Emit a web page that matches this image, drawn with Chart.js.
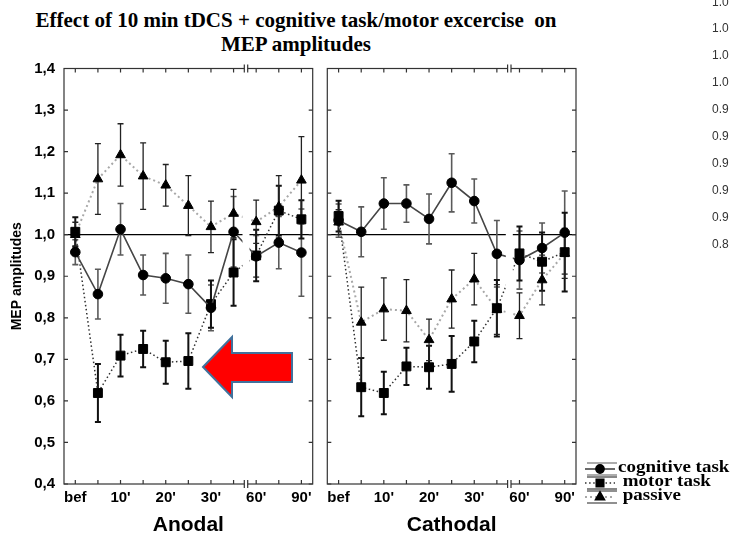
<!DOCTYPE html>
<html>
<head>
<meta charset="utf-8">
<script src="https://cdn.jsdelivr.net/npm/chart.js@4.4.1/dist/chart.umd.min.js"></script>
<style>
  html, body { margin: 0; padding: 0; background: #fff; }
  #page { position: relative; width: 732px; height: 545px; overflow: hidden; }
  .title { position: absolute; left: 0; top: 8px; width: 592px; text-align: center; white-space: pre;
           font: bold 21px "Liberation Serif", "Times New Roman", serif; line-height: 24px; color: #000; }
  #cvLeft { position: absolute; left: 0; top: 0; }
  #cvRight { position: absolute; left: 320px; top: 0; }
  #arrow { position: absolute; left: 0; top: 0; pointer-events: none; }
  .side { position: absolute; left: 712px; font: 12px "Liberation Sans", Arial, sans-serif; line-height: 14px; color: #333; }
</style>
</head>
<body>
<div id="page">
  <div class="title">Effect of 10 min tDCS + cognitive task/motor excercise  on
MEP amplitudes</div>
  <canvas id="cvLeft" width="320" height="545"></canvas>
  <canvas id="cvRight" width="412" height="545"></canvas>
  <svg id="arrow" width="732" height="545">
    <polygon points="203,367 232,337 232,353 292,353 292,382 232,382 232,397"
             fill="#ff0000" stroke="#41719c" stroke-width="2" stroke-linejoin="miter"/>
  </svg>
</div>
<script>
// time points (bef + 10 measurements), tick labels only on every other one
const timeLabels = ['bef', '', "10'", '', "20'", '', "30'", '', "60'", '', "90'"];
const yTicks = [0.4, 0.5, 0.6, 0.7, 0.8, 0.9, 1.0, 1.1, 1.2, 1.3, 1.4];
const breakAt = 7.55;   // axis break between 40' and 60'
const refLevel = 1.0;

const seriesNames = ['cognitive task', ' motor task', ' passive'];

// Anodal
const anodalCognitive    = [0.958, 0.857, 1.013, 0.903, 0.895, 0.881, 0.824, 1.007, 0.948, 0.981, 0.957];
const anodalCognitiveErr = [0.030, 0.060, 0.062, 0.048, 0.060, 0.070, 0.055, 0.085, 0.050, 0.063, 0.105];
const anodalMotor        = [1.007, 0.619, 0.709, 0.725, 0.693, 0.696, 0.833, 0.909, 0.950, 1.058, 1.037];
const anodalMotorErr     = [0.035, 0.070, 0.050, 0.044, 0.052, 0.067, 0.057, 0.080, 0.062, 0.060, 0.046];
const anodalPassive      = [1.000, 1.134, 1.192, 1.141, 1.119, 1.070, 1.019, 1.051, 1.031, 1.067, 1.131];
const anodalPassiveErr   = [0.030, 0.085, 0.075, 0.080, 0.050, 0.072, 0.062, 0.058, 0.052, 0.075, 0.105];

// Cathodal
const cathodalCognitive    = [1.034, 1.007, 1.075, 1.075, 1.038, 1.125, 1.081, 0.954, 0.939, 0.968, 1.005];
const cathodalCognitiveErr = [0.040, 0.060, 0.062, 0.045, 0.060, 0.070, 0.053, 0.080, 0.070, 0.060, 0.100];
const cathodalMotor        = [1.045, 0.633, 0.619, 0.683, 0.681, 0.689, 0.743, 0.823, 0.955, 0.935, 0.958];
const cathodalMotorErr     = [0.037, 0.070, 0.051, 0.045, 0.052, 0.067, 0.050, 0.068, 0.065, 0.070, 0.095];
const cathodalPassive      = [1.030, 0.789, 0.821, 0.817, 0.747, 0.845, 0.893, 0.820, 0.805, 0.891, 0.955];
const cathodalPassiveErr   = [0.030, 0.085, 0.075, 0.075, 0.050, 0.070, 0.062, 0.060, 0.055, 0.060, 0.060];

// stray numbers at the right edge of the slide
const sideValues = ['1.0', '1.0', '1.0', '1.0', '0.9', '0.9', '0.9', '0.9', '0.9', '0.8'];

const axisFont = '"Liberation Sans", Arial, sans-serif';
const styles = [
  { line: '#454545', width: 1.6, dash: [], point: 'circle', radius: 4.8, err: '#5a5a5a', errWidth: 1.6 },
  { line: '#303030', width: 1.5, dash: [1.5, 2.6], point: 'rect', radius: 6.3, err: '#111', errWidth: 2 },
  { line: '#a8a8a8', width: 2, dash: [2, 3], point: 'triangle', radius: 5.6, err: '#222', errWidth: 1.3 }
];

sideValues.forEach((t, i) => {
  const d = document.createElement('div');
  d.className = 'side';
  d.style.top = (1.5 + i * 26.9 - 7) + 'px';
  d.textContent = t;
  document.getElementById('page').appendChild(d);
});

function makeDatasets(groups) {
  return groups.map(([vals, errs], k) => {
    const s = styles[k];
    return {
      label: seriesNames[k],
      data: vals.map((v, i) => ({ x: i, y: v })),
      errors: errs,
      errColor: s.err,
      errWidth: s.errWidth,
      showLine: true,
      borderColor: s.line,
      borderWidth: s.width,
      borderDash: s.dash,
      pointStyle: s.point,
      pointRadius: s.radius,
      pointBackgroundColor: '#000',
      pointBorderColor: '#000',
      pointBorderWidth: 1
    };
  });
}

const panelDecor = {
  id: 'panelDecor',
  beforeDatasetsDraw(chart) {
    const { ctx, chartArea: a, scales: { x, y } } = chart;
    ctx.save();
    const yr = y.getPixelForValue(refLevel);
    ctx.strokeStyle = '#000';
    ctx.lineWidth = 1.2;
    ctx.beginPath();
    ctx.moveTo(a.left, yr);
    ctx.lineTo(a.right, yr);
    ctx.stroke();

    chart.data.datasets.forEach(ds => {
      ctx.strokeStyle = ds.errColor;
      ctx.lineWidth = ds.errWidth;
      ctx.beginPath();
      ds.data.forEach((p, i) => {
        const px = x.getPixelForValue(p.x);
        const top = y.getPixelForValue(p.y + ds.errors[i]);
        const bot = y.getPixelForValue(p.y - ds.errors[i]);
        ctx.moveTo(px, top); ctx.lineTo(px, bot);
        ctx.moveTo(px - 3, top); ctx.lineTo(px + 3, top);
        ctx.moveTo(px - 3, bot); ctx.lineTo(px + 3, bot);
      });
      ctx.stroke();
    });
    ctx.restore();
  },
  afterDatasetsDraw(chart) {
    const { ctx, chartArea: a, scales: { x, y } } = chart;
    const gx = x.getPixelForValue(breakAt);
    ctx.save();
    // gap in the lines at the axis break
    ctx.fillStyle = '#fff';
    ctx.fillRect(gx - 3.5, a.top + 1, 7, a.bottom - a.top - 2);

    ctx.strokeStyle = '#333';
    ctx.lineWidth = 1.2;
    ctx.strokeRect(a.left, a.top, a.right - a.left, a.bottom - a.top);

    ctx.beginPath();
    timeLabels.forEach((_, i) => {
      const px = x.getPixelForValue(i);
      ctx.moveTo(px, a.top); ctx.lineTo(px, a.top + 4);
      ctx.moveTo(px, a.bottom); ctx.lineTo(px, a.bottom - 4);
    });
    yTicks.forEach(v => {
      const py = y.getPixelForValue(v);
      ctx.moveTo(a.left, py); ctx.lineTo(a.left + 4, py);
      ctx.moveTo(a.right, py); ctx.lineTo(a.right - 4, py);
    });
    ctx.stroke();

    // break marks on top and bottom border
    ctx.fillRect(gx - 1.7, a.top - 1.5, 3.4, 3);
    ctx.fillRect(gx - 1.7, a.bottom - 1.5, 3.4, 3);
    ctx.beginPath();
    [gx - 1.7, gx + 1.7].forEach(bx => {
      ctx.moveTo(bx, a.top - 4); ctx.lineTo(bx, a.top + 4);
      ctx.moveTo(bx, a.bottom - 4); ctx.lineTo(bx, a.bottom + 4);
    });
    ctx.stroke();
    ctx.restore();
  }
};

const sideLegend = {
  id: 'sideLegend',
  afterDraw(chart) {
    const { ctx, chartArea: a } = chart;
    ctx.save();
    chart.data.datasets.forEach((ds, k) => {
      const cy = a.bottom - 15 + k * 14;
      const x0 = a.right + 9, x1 = a.right + 39, mx = a.right + 24;
      ctx.strokeStyle = ds.errColor;
      ctx.lineWidth = 1.2;
      ctx.setLineDash([]);
      ctx.beginPath();
      ctx.moveTo(x0 + 2, cy - 6); ctx.lineTo(x1 + 2, cy - 6);
      ctx.moveTo(x0 + 2, cy + 6); ctx.lineTo(x1 + 2, cy + 6);
      ctx.stroke();
      ctx.strokeStyle = ds.borderColor;
      ctx.lineWidth = ds.borderWidth;
      ctx.setLineDash(ds.borderDash);
      ctx.beginPath();
      ctx.moveTo(x0, cy); ctx.lineTo(x1, cy);
      ctx.stroke();
      ctx.setLineDash([]);
      ctx.fillStyle = '#000';
      ctx.strokeStyle = '#000';
      Chart.helpers.drawPoint(ctx, { pointStyle: ds.pointStyle, radius: ds.pointRadius * 0.85, rotation: 0, borderWidth: 1 }, mx, cy);
      // the slide squashed the legend text a little vertically
      ctx.save();
      ctx.translate(a.right + 42, cy - 1);
      ctx.scale(1, 0.9);
      ctx.font = 'bold 19px "Liberation Serif", "Times New Roman", serif';
      ctx.textBaseline = 'middle';
      ctx.fillText(ds.label, 0, 0);
      ctx.restore();
    });
    ctx.restore();
  }
};

function makeOptions(title, showY, pad) {
  return {
    responsive: false,
    animation: false,
    events: [],
    layout: { padding: pad },
    plugins: { legend: { display: false }, tooltip: { enabled: false } },
    scales: {
      x: {
        type: 'linear',
        min: -0.5,
        max: 10.5,
        afterBuildTicks: s => { s.ticks = timeLabels.map((_, i) => ({ value: i })); },
        afterFit: s => { s.height = 61; },
        grid: { display: false, drawTicks: false },
        border: { display: false },
        ticks: {
          autoSkip: false,
          maxRotation: 0,
          padding: 5,
          color: '#000',
          font: { family: axisFont, size: 15, weight: 'bold' },
          callback: v => timeLabels[v] ?? ''
        },
        title: {
          display: true,
          text: title,
          color: '#000',
          font: { family: axisFont, size: 21, weight: 'bold' },
          padding: { top: 0, bottom: 7 }
        }
      },
      y: {
        display: showY,
        min: 0.4,
        max: 1.4,
        afterBuildTicks: s => { s.ticks = yTicks.map(v => ({ value: v })); },
        afterFit: s => { s.width = showY ? 64 : 0; },
        grid: { display: false, drawTicks: false },
        border: { display: false },
        ticks: {
          padding: 9,
          color: '#000',
          font: { family: axisFont, size: 15, weight: 'bold' },
          callback: v => v.toFixed(1).replace('.', ',')
        },
        title: {
          display: showY,
          text: 'MEP amplitudes',
          color: '#000',
          font: { family: axisFont, size: 14, weight: 'bold' },
          padding: { top: 9, bottom: 0 }
        }
      }
    }
  };
}

new Chart(document.getElementById('cvLeft'), {
  type: 'scatter',
  data: {
    datasets: makeDatasets([
      [anodalCognitive, anodalCognitiveErr],
      [anodalMotor, anodalMotorErr],
      [anodalPassive, anodalPassiveErr]
    ])
  },
  options: makeOptions('Anodal', true, { top: 68.5, right: 6, left: 0, bottom: 0 }),
  plugins: [panelDecor]
});

new Chart(document.getElementById('cvRight'), {
  type: 'scatter',
  data: {
    datasets: makeDatasets([
      [cathodalCognitive, cathodalCognitiveErr],
      [cathodalMotor, cathodalMotorErr],
      [cathodalPassive, cathodalPassiveErr]
    ])
  },
  options: makeOptions('Cathodal', false, { top: 68.5, right: 156, left: 6, bottom: 0 }),
  plugins: [panelDecor, sideLegend]
});
</script>
</body>
</html>
